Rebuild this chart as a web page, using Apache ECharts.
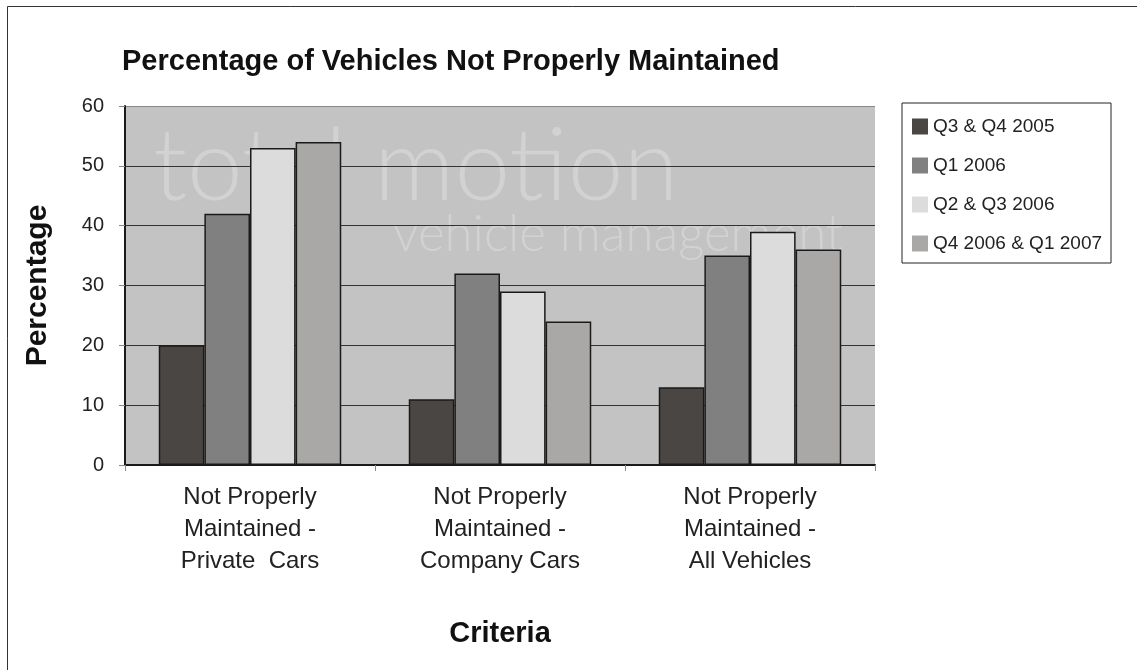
<!DOCTYPE html>
<html><head><meta charset="utf-8">
<script src="https://cdn.jsdelivr.net/npm/echarts@6/dist/echarts.min.js"></script>
<style>html,body{margin:0;padding:0;background:#fff}#c{width:1137px;height:670px}</style>
</head><body><div id="c"></div>
<script>
var categories = ['Not Properly\nMaintained -\nPrivate  Cars', 'Not Properly\nMaintained -\nCompany Cars', 'Not Properly\nMaintained -\nAll Vehicles'];
var seriesNames = ['Q3 & Q4 2005', 'Q1 2006', 'Q2 & Q3 2006', 'Q4 2006 & Q1 2007'];
var q3q4_2005 = [20, 11, 13];
var q1_2006 = [42, 32, 35];
var q2q3_2006 = [53, 29, 39];
var q4_2006_q1_2007 = [54, 24, 36];
var colors = ['#4a4643', '#808080', '#dcdcdc', '#a9a8a6'];
var font = 'Liberation Sans, Arial, sans-serif';
var wmFont = 'Lato, Open Sans, sans-serif';

var chart = echarts.init(document.getElementById('c'), null, {renderer: 'canvas'});
var values = [q3q4_2005, q1_2006, q2q3_2006, q4_2006_q1_2007];
chart.setOption({
  animation: false,
  textStyle: {fontFamily: font},
  title: {
    text: 'Percentage of Vehicles Not Properly Maintained',
    left: 122, top: 47, padding: 0,
    textStyle: {fontSize: 29, fontWeight: 'bold', color: '#111', fontFamily: font}
  },
  graphic: [
    {type: 'rect', shape: {x: 7.5, y: 6.5, width: 1200, height: 700}, style: {fill: 'none', stroke: '#333', lineWidth: 1}, z: -20, silent: true},
    {type: 'rect', shape: {x: 125, y: 106, width: 750, height: 359}, style: {fill: '#c3c3c3'}, z: -10, silent: true},
    {type: 'text', x: 153, y: 168, style: {text: 'total motion', fontSize: 100, fontFamily: wmFont, fontWeight: 300, fill: '#d2d2d2', verticalAlign: 'middle'}, z: -5, silent: true},
    {type: 'text', x: 393, y: 235, style: {text: 'vehicle management', fontSize: 51, fontFamily: wmFont, fontWeight: 300, fill: '#d2d2d2', verticalAlign: 'middle'}, z: -5, silent: true}
  ],
  legend: {
    orient: 'vertical', left: 902, top: 103,
    data: seriesNames,
    itemWidth: 16, itemHeight: 16, itemGap: 20,
    padding: [14, 9, 10, 10],
    borderColor: '#222', borderWidth: 1, borderRadius: 0,
    icon: 'rect',
    itemStyle: {borderWidth: 0},
    textStyle: {fontSize: 19, color: '#222', fontFamily: font}
  },
  grid: {left: 125, top: 106, right: 262, bottom: 205, containLabel: false},
  xAxis: {
    type: 'category', data: categories,
    name: 'Criteria', nameLocation: 'middle', nameGap: 154,
    nameTextStyle: {fontSize: 29, fontWeight: 'bold', color: '#111', fontFamily: font},
    axisLine: {lineStyle: {color: '#1a1a1a', width: 2}},
    axisTick: {show: true, length: 6, lineStyle: {color: '#888', width: 1}},
    axisLabel: {fontSize: 24, color: '#222', lineHeight: 32, margin: 16, fontFamily: font}
  },
  yAxis: {
    type: 'value', min: 0, max: 60, interval: 10,
    name: 'Percentage', nameLocation: 'middle', nameGap: 72, nameRotate: 90,
    nameTextStyle: {fontSize: 30, fontWeight: 'bold', color: '#111', fontFamily: font},
    axisLine: {show: true, lineStyle: {color: '#1a1a1a', width: 2}},
    axisTick: {show: true, length: 6, lineStyle: {color: '#888', width: 1}},
    axisLabel: {fontSize: 20, color: '#222', margin: 21, fontFamily: font},
    splitLine: {show: true, lineStyle: {color: ['#333', '#333', '#333', '#333', '#333', '#333', '#888'], width: 1}}
  },
  series: seriesNames.map(function (n, i) {
    return {
      type: 'bar', name: n, data: values[i],
      barGap: '0%', barCategoryGap: '27%',
      itemStyle: {color: colors[i], borderColor: '#1a1a1a', borderWidth: 1.5}
    };
  })
});
</script>
</body></html>
